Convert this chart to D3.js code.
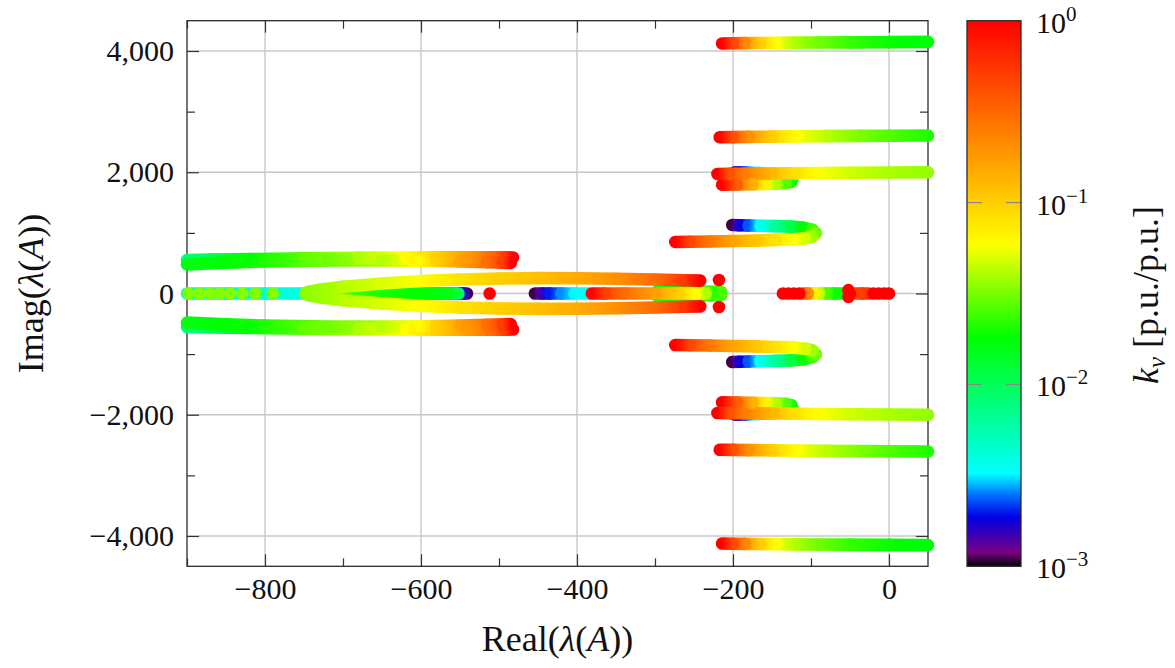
<!DOCTYPE html>
<html><head><meta charset="utf-8">
<script src="https://cdn.jsdelivr.net/npm/d3@7"></script>
<style>
body{margin:0;background:#fff;}
svg{display:block;}
text{font-family:"Liberation Serif","Times New Roman",serif;}
</style></head><body>
<svg id="chart" width="1175" height="668"></svg>
<script>
// ---------------- data ----------------
const xTicks = [-800, -600, -400, -200, 0];
const xMinorTicks = [-900, -700, -500, -300, -100];
const yTicks = [-4000, -2000, 0, 2000, 4000];
const yMinorTicks = [-3000, -1000, 1000, 3000];
const cbTicks = [1e-3, 1e-2, 1e-1, 1];
const cbTickExponents = ["\u22123", "\u22122", "\u22121", "0"];

// eigenvalue traces: [Re, Im, kv]; branches flagged conj also appear at -Im
const branchA = [[-214,4125,1.0],[-200,4127,0.45],[-185,4130,0.22],[-165,4132,0.1],[-144,4135,0.058],[-120,4138,0.04],[-90,4140,0.03],[-50,4143,0.023],[0,4146,0.019],[50,4150,0.017]];
const branchB = [[-217,2578,1.0],[-200,2580,0.4],[-180,2583,0.2],[-150,2588,0.1],[-117,2592,0.058],[-80,2596,0.042],[-37,2600,0.032],[0,2603,0.026],[50,2606,0.021]];
const branchC = [[-220,1971,1.0],[-205,1973,0.4],[-185,1975,0.25],[-150,1980,0.13],[-120,1984,0.08],[-88,1988,0.058],[-50,1992,0.047],[0,1996,0.04],[50,2000,0.036]];
const branchD = [[-214,1795,1.0],[-195,1798,0.35],[-175,1802,0.14],[-160,1806,0.07],[-145,1812,0.04],[-132,1822,0.026],[-125,1845,0.02],[-124,1890,0.016],[-130,1935,0.011],[-145,1965,0.007],[-165,1985,0.004],[-185,1995,0.0022],[-198,2000,0.0012]];
const branchE = [[-274,850,1.0],[-255,853,0.45],[-230,858,0.26],[-200,865,0.16],[-170,873,0.11],[-145,883,0.08],[-123,893,0.06],[-108,910,0.048],[-98,940,0.038],[-94,1000,0.03],[-98,1050,0.024],[-110,1085,0.018],[-125,1103,0.011],[-145,1112,0.0065],[-165,1117,0.0035],[-180,1121,0.0023],[-192,1125,0.0017],[-201,1130,0.0011]];
const branchF1 = [[-482,595,1.0],[-492,597,0.5],[-510,598,0.3],[-540,598,0.18],[-580,597,0.1],[-620,595,0.06],[-680,590,0.04],[-750,580,0.028],[-820,568,0.018],[-870,558,0.011],[-900,550,0.008]];
const branchF2 = [[-485,505,1.0],[-495,510,0.5],[-515,518,0.3],[-550,528,0.17],[-580,535,0.1],[-601,540,0.062],[-650,545,0.042],[-720,545,0.03],[-800,530,0.021],[-850,510,0.018],[-900,480,0.016]];
const branchG = [[-242,212,1.0],[-262,218,0.55],[-300,230,0.3],[-350,243,0.2],[-400,252,0.15],[-450,253,0.12],[-500,247,0.1],[-550,232,0.08],[-600,205,0.06],[-650,165,0.05],[-700,110,0.042],[-730,62,0.037],[-745,25,0.035],[-748,0,0.034]];
const branchH = [[-748,0,0.034],[-700,0,0.025],[-650,0,0.02],[-600,0,0.018],[-565,0,0.016],[-552,0,0.011]];
const branchK = [[-900,0,0.005],[-850,0,0.0048],[-800,0,0.0045],[-760,0,0.004],[-726,0,0.0035],[-680,0,0.0033],[-620,0,0.003],[-560,0,0.0025],[-550,0,0.002],[-545,0,0.0015],[-541,0,0.0011]];
const branchN = [[-454,0,0.0011],[-445,0,0.0015],[-435,0,0.002],[-420,0,0.0026],[-403,0,0.0032],[-385,0,0.0036]];
const branchO = [[-381,0,1.0],[-365,0,0.5],[-340,0,0.3],[-300,0,0.17],[-270,0,0.1],[-248,0,0.06],[-235,0,0.04],[-226,0,0.022],[-220,0,0.008],[-216,0,0.0015]];
const branchP = [[-298,30,0.016],[-270,32,0.018],[-245,33,0.02],[-228,30,0.022],[-215,25,0.025]];
const branchQ = [[-110,0,0.5],[-104,0,0.22],[-97,0,0.07],[-90,0,0.045],[-80,0,0.025],[-70,0,0.019],[-60,0,0.015]];
const branchQ2 = [[-44,0,0.45],[-35,0,0.5],[-26,0,0.6]];
const dotsLeft = [[-898,0,0.033],[-884,0,0.033],[-871,0,0.033],[-858,0,0.033],[-845,0,0.033],[-829,0,0.033],[-812,0,0.033],[-790,0,0.033]];
const dotsRedReal = [[-512,0,1],[-136,0,1],[-129,0,1],[-122,0,1],[-115,0,1],[-50,0,1],[-20,0,1],[-13,0,1],[-6,0,1],[0,0,1]];
const dotsRedConj = [[-218,222,1],[-52,55,1]];

const traces = [
  {pts: branchA, conj: true}, {pts: branchB, conj: true}, {pts: branchC, conj: true},
  {pts: branchD, conj: true}, {pts: branchE, conj: true}, {pts: branchF1, conj: true},
  {pts: branchF2, conj: true}, {pts: branchG, conj: true}, {pts: branchH, conj: false},
  {pts: branchK, conj: false}, {pts: branchN, conj: false}, {pts: branchO, conj: false},
  {pts: branchP, conj: true}, {pts: branchQ, conj: false}, {pts: branchQ2, conj: false},
  {pts: dotsLeft, conj: false, dots: true}, {pts: dotsRedReal, conj: false, dots: true},
  {pts: dotsRedConj, conj: true, dots: true}
];

// colormap (position on log kv axis -> colour)
const cmapStops = [0, 0.025, 0.09, 0.13, 0.17, 0.42, 0.59, 1];
const cmapColors = ["#000000", "#780082", "#0000e6", "#006eff", "#00ffff", "#00ff00", "#ffff00", "#ff0000"];

// ---------------- drawing ----------------
const plot = {left: 187, right: 928, top: 20.7, bottom: 566.3};
const x = d3.scaleLinear().domain([-900, 50]).range([plot.left, plot.right]);
const y = d3.scaleLinear().domain([-4500, 4500]).range([plot.bottom, plot.top]);
const cmap = d3.scaleLinear().domain(cmapStops).range(cmapColors).interpolate(d3.interpolateRgb).clamp(true);
const kvPos = d3.scaleLog().domain([1e-3, 1]).range([0, 1]).clamp(true);
const colorOf = kv => cmap(kvPos(kv));
const fmt = d3.format(",");
const FONT = "'Liberation Serif','Times New Roman',serif";

const svg = d3.select("#chart");
const defs = svg.append("defs");

// grid
const grid = svg.append("g");
grid.selectAll("line.gx").data(xTicks).join("line").attr("class","gx")
  .attr("x1", d => x(d)).attr("x2", d => x(d)).attr("y1", plot.top).attr("y2", plot.bottom)
  .attr("stroke", "#c8c8c8").attr("stroke-width", 1.4);
grid.selectAll("line.gy").data(yTicks).join("line").attr("class","gy")
  .attr("y1", d => y(d)).attr("y2", d => y(d)).attr("x1", plot.left).attr("x2", plot.right)
  .attr("stroke", "#c8c8c8").attr("stroke-width", 1.4);

function styleAxis(g) {
  g.select(".domain").remove();
  g.attr("font-family", FONT).attr("font-size", 30);
  g.selectAll(".tick line").attr("stroke", "#333").attr("stroke-width", 1.2);
  g.selectAll(".tick text").attr("fill", "#111");
}
const MAJ = 12, MIN = 8;
svg.append("g").attr("transform", `translate(0,${plot.bottom})`)
  .call(d3.axisBottom(x).tickValues(xTicks).tickSize(-MAJ).tickPadding(11).tickFormat(fmt)).call(styleAxis);
svg.append("g").attr("transform", `translate(0,${plot.bottom})`)
  .call(d3.axisBottom(x).tickValues(xMinorTicks).tickSize(-MIN).tickFormat("")).call(styleAxis);
svg.append("g").attr("transform", `translate(0,${plot.top})`)
  .call(d3.axisTop(x).tickValues(xTicks).tickSize(-MAJ).tickFormat("")).call(styleAxis);
svg.append("g").attr("transform", `translate(0,${plot.top})`)
  .call(d3.axisTop(x).tickValues(xMinorTicks).tickSize(-MIN).tickFormat("")).call(styleAxis);
svg.append("g").attr("transform", `translate(${plot.left},0)`)
  .call(d3.axisLeft(y).tickValues(yTicks).tickSize(-MAJ).tickPadding(13).tickFormat(fmt)).call(styleAxis);
svg.append("g").attr("transform", `translate(${plot.left},0)`)
  .call(d3.axisLeft(y).tickValues(yMinorTicks).tickSize(-MIN).tickFormat("")).call(styleAxis);
svg.append("g").attr("transform", `translate(${plot.right},0)`)
  .call(d3.axisRight(y).tickValues(yTicks).tickSize(-MAJ).tickFormat("")).call(styleAxis);
svg.append("g").attr("transform", `translate(${plot.right},0)`)
  .call(d3.axisRight(y).tickValues(yMinorTicks).tickSize(-MIN).tickFormat("")).call(styleAxis);

svg.append("rect").attr("x", plot.left).attr("y", plot.top)
  .attr("width", plot.right - plot.left).attr("height", plot.bottom - plot.top)
  .attr("fill", "none").attr("stroke", "#2b2b2b").attr("stroke-width", 1.3);

// markers (scatter traces), drawn in order of increasing kv
const R = 6.3;
const items = [];
traces.forEach(tr => {
  const signs = tr.conj ? [1, -1] : [1];
  signs.forEach(s => {
    const pts = tr.pts.map(p => ({re: p[0], im: s * p[1], kv: p[2]}));
    if (tr.dots) {
      pts.forEach(p => items.push({type: "dot", p, key: Math.log(p.kv)}));
    } else {
      for (let i = 0; i < pts.length - 1; i++) {
        const a = pts[i], b = pts[i + 1];
        items.push({type: "seg", a, b, key: (Math.log(a.kv) + Math.log(b.kv)) / 2});
      }
    }
  });
});
items.sort((u, v) => u.key - v.key);

const mk = svg.append("g");
items.forEach((it, i) => {
  if (it.type === "dot") {
    mk.append("circle").attr("cx", x(it.p.re)).attr("cy", y(it.p.im)).attr("r", R)
      .attr("fill", colorOf(it.p.kv));
  } else {
    const x1 = x(it.a.re), y1 = y(it.a.im), x2 = x(it.b.re), y2 = y(it.b.im);
    const id = "sg" + i;
    const gr = defs.append("linearGradient").attr("id", id).attr("gradientUnits", "userSpaceOnUse")
      .attr("x1", x1).attr("y1", y1).attr("x2", x2).attr("y2", y2);
    const la = Math.log(it.a.kv), lb = Math.log(it.b.kv);
    d3.range(0, 1.0001, 0.125).forEach(t => {
      gr.append("stop").attr("offset", t).attr("stop-color", colorOf(Math.exp(la + t * (lb - la))));
    });
    mk.append("line").attr("x1", x1).attr("y1", y1).attr("x2", x2).attr("y2", y2)
      .attr("stroke", `url(#${id})`).attr("stroke-width", 2 * R).attr("stroke-linecap", "round");
  }
});

// axis labels
const xl = svg.append("text").attr("x", (plot.left + plot.right) / 2).attr("y", 651)
  .attr("text-anchor", "middle").attr("font-size", 36).attr("fill", "#111");
xl.append("tspan").text("Real(");
xl.append("tspan").attr("font-style", "italic").text("\u03bb");
xl.append("tspan").text("(");
xl.append("tspan").attr("font-style", "italic").text("A");
xl.append("tspan").text("))");

const yl = svg.append("text").attr("transform", `translate(43,${(plot.top + plot.bottom) / 2}) rotate(-90)`)
  .attr("text-anchor", "middle").attr("font-size", 36).attr("fill", "#111");
yl.append("tspan").text("Imag(");
yl.append("tspan").attr("font-style", "italic").text("\u03bb");
yl.append("tspan").text("(");
yl.append("tspan").attr("font-style", "italic").text("A");
yl.append("tspan").text("))");

// colorbar
const cb = {left: 967, right: 1021, top: plot.top, bottom: plot.bottom};
const yc = d3.scaleLog().domain([1e-3, 1]).range([cb.bottom, cb.top]);
const cg = defs.append("linearGradient").attr("id", "cbgrad").attr("x1", 0).attr("y1", 1).attr("x2", 0).attr("y2", 0);
cmapStops.forEach((s, i) => cg.append("stop").attr("offset", s).attr("stop-color", cmapColors[i]));
svg.append("rect").attr("x", cb.left).attr("y", cb.top).attr("width", cb.right - cb.left)
  .attr("height", cb.bottom - cb.top).attr("fill", "url(#cbgrad)");
const inner = cbTicks.filter(t => t > 1e-3 && t < 1);
svg.append("g").selectAll("line").data(inner.flatMap(t => [[cb.left, cb.left + 15, t], [cb.right - 15, cb.right, t]]))
  .join("line").attr("x1", d => d[0]).attr("x2", d => d[1]).attr("y1", d => yc(d[2])).attr("y2", d => yc(d[2]))
  .attr("stroke", "#888").attr("stroke-width", 1.2);
svg.append("rect").attr("x", cb.left).attr("y", cb.top).attr("width", cb.right - cb.left)
  .attr("height", cb.bottom - cb.top).attr("fill", "none").attr("stroke", "#2b2b2b").attr("stroke-width", 1.3);
cbTicks.forEach((t, i) => {
  const tx = svg.append("text").attr("x", cb.right + 15).attr("y", yc(t) + 12)
    .attr("font-size", 30).attr("fill", "#111");
  tx.append("tspan").text("10");
  tx.append("tspan").attr("font-size", 21).attr("dy", -12).text(cbTickExponents[i]);
});
const cl = svg.append("text").attr("transform", `translate(1158,295) rotate(-90)`)
  .attr("text-anchor", "middle").attr("font-size", 36).attr("fill", "#111");
cl.append("tspan").attr("font-style", "italic").text("k");
cl.append("tspan").attr("font-style", "italic").attr("font-size", 25).attr("dy", 7).text("v");
cl.append("tspan").attr("dy", -7).text(" [p.u./p.u.]");
</script>
</body></html>
